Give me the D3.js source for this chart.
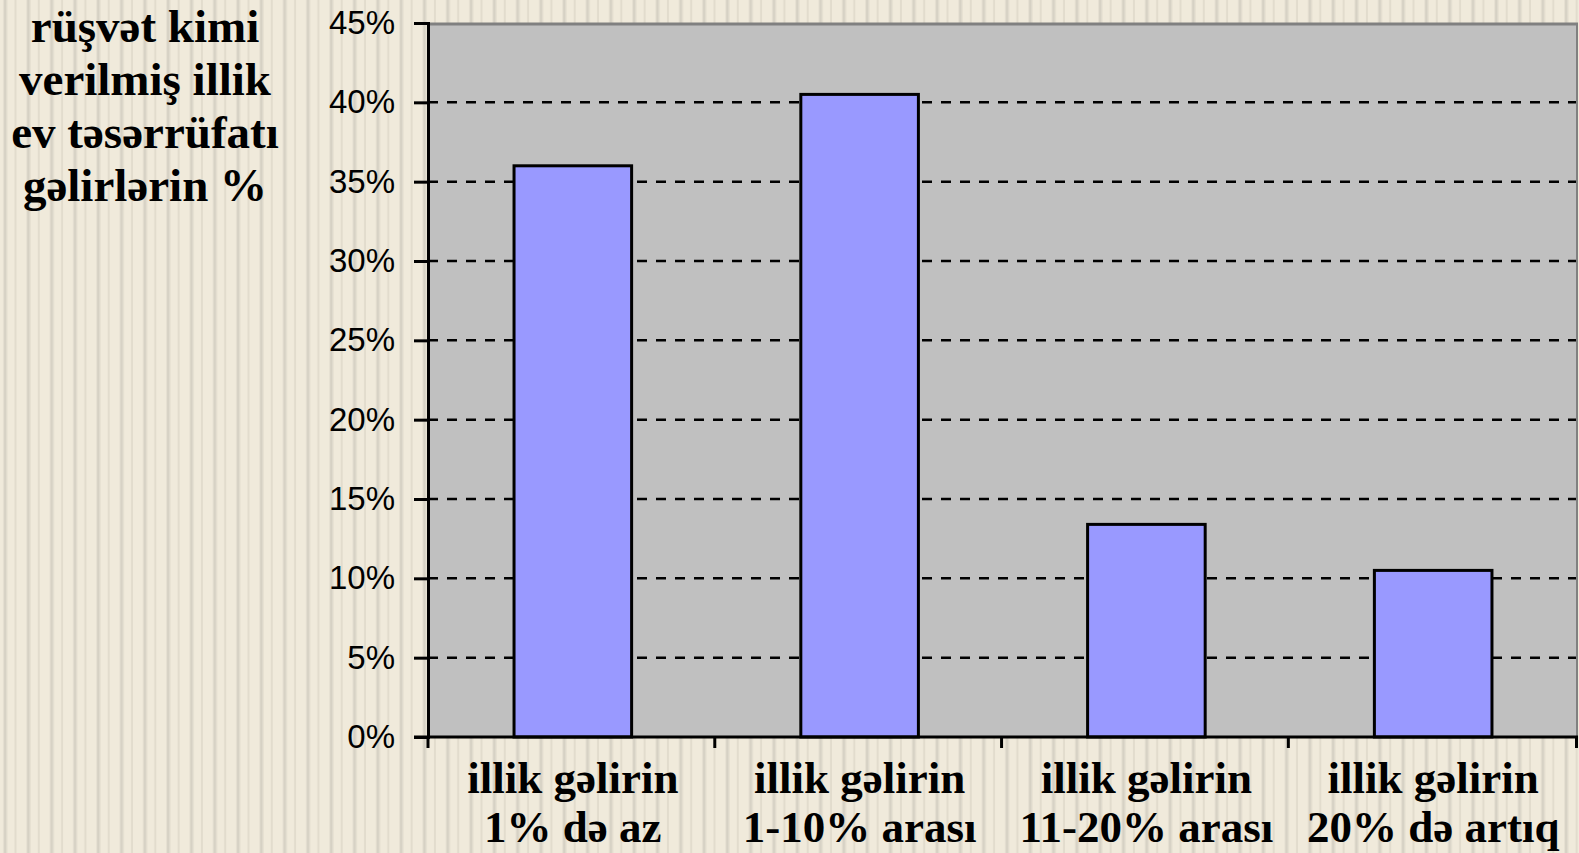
<!DOCTYPE html>
<html>
<head>
<meta charset="utf-8">
<script src="https://cdn.jsdelivr.net/npm/d3@7"></script>
<style>
  html, body { margin: 0; padding: 0; background: #efe9da; }
  svg { display: block; }
</style>
</head>
<body>
<svg id="chart" width="1579" height="853"></svg>
<script>
const categories = ["c1", "c2", "c3", "c4"];
const labelLine1 = ["illik gəlirin", "illik gəlirin", "illik gəlirin", "illik gəlirin"];
const labelLine2 = ["1% də az", "1-10% arası", "11-20% arası", "20% də artıq"];
const values = [36, 40.5, 13.4, 10.5];
const yTicks = [0, 5, 10, 15, 20, 25, 30, 35, 40, 45];
const titleLines = ["rüşvət kimi", "verilmiş illik", "ev təsərrüfatı", "gəlirlərin %"];

const svg = d3.select("#chart");
const W = 1579, H = 853;
const plot = { left: 428, right: 1578, top: 23, bottom: 737 };

// Striped backdrop
const defs = svg.append("defs");
const pat = defs.append("pattern")
  .attr("id", "stripes")
  .attr("patternUnits", "userSpaceOnUse")
  .attr("width", 23.3)
  .attr("height", 10);
pat.append("rect").attr("width", 23.3).attr("height", 10).attr("fill", "#f0eadb");
pat.append("rect").attr("x", 3).attr("width", 1).attr("height", 10).attr("fill", "#e6e0d1");
pat.append("rect").attr("x", 4).attr("width", 2.5).attr("height", 10).attr("fill", "#d6d1c4");
pat.append("rect").attr("x", 6.5).attr("width", 1).attr("height", 10).attr("fill", "#e6e0d1");
pat.append("rect").attr("x", 14.5).attr("width", 2).attr("height", 10).attr("fill", "#e2dccd");
svg.append("rect").attr("width", W).attr("height", H).attr("fill", "url(#stripes)");

const x = d3.scaleBand()
  .domain(categories)
  .range([plot.left, plot.right])
  .paddingInner(0.59)
  .paddingOuter(0.3);

const y = d3.scaleLinear()
  .domain([0, 45])
  .range([plot.bottom, plot.top]);

// Plot area
svg.append("rect")
  .attr("x", plot.left)
  .attr("y", plot.top)
  .attr("width", plot.right - plot.left)
  .attr("height", plot.bottom - plot.top)
  .attr("fill", "#c0c0c0");

// Gray frame top and right
svg.append("line")
  .attr("x1", plot.left).attr("x2", plot.right)
  .attr("y1", plot.top + 1).attr("y2", plot.top + 1)
  .attr("stroke", "#808080").attr("stroke-width", 3);
svg.append("line")
  .attr("x1", plot.right - 1).attr("x2", plot.right - 1)
  .attr("y1", plot.top).attr("y2", plot.bottom)
  .attr("stroke", "#808080").attr("stroke-width", 2);

// Dashed gridlines
svg.append("g")
  .selectAll("line")
  .data(yTicks.filter(d => d > 0 && d < 45))
  .join("line")
  .attr("x1", plot.left).attr("x2", plot.right - 2)
  .attr("y1", d => y(d)).attr("y2", d => y(d))
  .attr("stroke", "#000")
  .attr("stroke-width", 2.5)
  .attr("stroke-dasharray", "10,9");

// Bars
svg.append("g")
  .selectAll("rect")
  .data(values)
  .join("rect")
  .attr("x", (d, i) => x(categories[i]))
  .attr("y", d => y(d))
  .attr("width", x.bandwidth())
  .attr("height", d => y(0) - y(d))
  .attr("fill", "#9999ff")
  .attr("stroke", "#000")
  .attr("stroke-width", 3);

// Y axis
const yAxis = svg.append("g")
  .attr("transform", `translate(${plot.left},0)`)
  .call(d3.axisLeft(y).tickValues(yTicks).tickFormat(d => d + "%").tickSize(14).tickPadding(19));
yAxis.select(".domain").attr("stroke-width", 3);
yAxis.selectAll(".tick line").attr("stroke-width", 3);
yAxis.selectAll("text")
  .attr("font-family", "'Liberation Sans', Arial, sans-serif")
  .attr("font-size", 33)
  .attr("fill", "#000");

// X axis line with boundary ticks
svg.append("line")
  .attr("x1", plot.left - 14).attr("x2", plot.right)
  .attr("y1", plot.bottom).attr("y2", plot.bottom)
  .attr("stroke", "#000").attr("stroke-width", 3);
const step = x.step();
svg.append("g")
  .selectAll("line")
  .data(categories.concat(["end"]))
  .join("line")
  .attr("x1", (d, i) => i < categories.length ? x(d) - step * x.paddingOuter() : plot.right - 1.5)
  .attr("x2", (d, i) => i < categories.length ? x(d) - step * x.paddingOuter() : plot.right - 1.5)
  .attr("y1", plot.bottom)
  .attr("y2", plot.bottom + 11)
  .attr("stroke", "#000").attr("stroke-width", 3);

// X labels
const xl = svg.append("g")
  .attr("font-family", "'Liberation Serif', 'Times New Roman', serif")
  .attr("font-weight", "bold")
  .attr("font-size", 45)
  .attr("text-anchor", "middle")
  .attr("fill", "#000");
xl.selectAll("text.l1")
  .data(categories)
  .join("text")
  .attr("class", "l1")
  .attr("x", d => x(d) + x.bandwidth() / 2)
  .attr("y", 793)
  .text((d, i) => labelLine1[i]);
xl.selectAll("text.l2")
  .data(categories)
  .join("text")
  .attr("class", "l2")
  .attr("x", d => x(d) + x.bandwidth() / 2)
  .attr("y", 842)
  .text((d, i) => labelLine2[i]);

// Axis title
svg.append("g")
  .attr("font-family", "'Liberation Serif', 'Times New Roman', serif")
  .attr("font-weight", "bold")
  .attr("font-size", 47)
  .attr("text-anchor", "middle")
  .attr("fill", "#000")
  .selectAll("text")
  .data(titleLines)
  .join("text")
  .attr("x", 145)
  .attr("y", (d, i) => 42 + i * 53)
  .text(d => d);
</script>
</body>
</html>
